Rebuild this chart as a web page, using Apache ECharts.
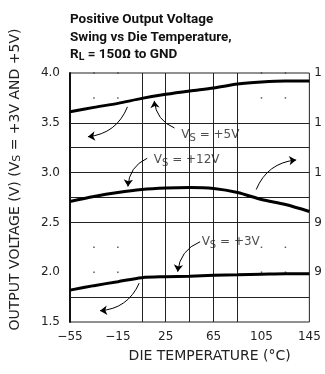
<!DOCTYPE html>
<html>
<head>
<meta charset="utf-8">
<script src="https://cdn.jsdelivr.net/npm/echarts@6/dist/echarts.min.js"></script>
<style>
html, body { margin: 0; padding: 0; background: #fff; }
#main { width: 325px; height: 374px; }
</style>
</head>
<body>
<div id="main"></div>
<script>
// die temperature (°C) and output swing (V)
var temps = [-55, -35, -15, 5, 25, 45, 65, 85, 105, 125, 145];
var vs5 = [3.61, 3.655, 3.695, 3.745, 3.786, 3.82, 3.85, 3.89, 3.91, 3.92, 3.92];
var vs12 = [2.71, 2.76, 2.80, 2.83, 2.845, 2.85, 2.84, 2.80, 2.73, 2.68, 2.61];
var vs3 = [1.82, 1.865, 1.905, 1.945, 1.955, 1.96, 1.97, 1.975, 1.98, 1.985, 1.985];

// grid: some rows/cols are ruled, others only dotted
var solidRows = [3.5, 3.25, 3.0, 2.75, 2.5, 1.75];
var solidCols = [5, 25, 45, 65, 85];
var dotRows = [4.0, 3.75, 2.25, 2.0];
var dotCols = [-35, -15, 105, 125];

// clipped labels of the right hand scale
var rightVals = [4.0, 3.5, 3.0, 2.5, 2.0];
var rightText = ['1', '1', '1', '9', '9'];

// curve notes and arrows, in data units
var noteText = ['+5V', '+12V', '+3V'];
var noteAt = [[38, 3.383], [15, 3.13], [55, 2.303]];
var arrowFrom = [[32.3, 3.448], [-7, 3.66], [9.5, 3.144], [100.6, 2.83], [53.7, 2.306], [2.8, 1.89]];
var arrowTo = [[15.4, 3.72], [-40, 3.36], [-6.6, 2.86], [134, 3.127], [35, 2.005], [-29.9, 1.613]];
var arrowBend = [0.3, 0.3, -0.3, 0.3, -0.3, 0.3];

var xMin = -55, xMax = 145, yMin = 1.5, yMax = 4.0;

function pairs(ys) {
    return temps.map(function(t, i) { return [t, ys[i]]; });
}

var dots = [];
dotRows.forEach(function(r) {
    dotCols.forEach(function(c) { dots.push([c, r]); });
});

// ruled grid lines run edge to edge of the plot
var rules = solidRows.map(function(v) { return { coords: [[xMin, v], [xMax, v]] }; })
    .concat(solidCols.map(function(v) { return { coords: [[v, yMin], [v, yMax]] }; }));

var font = 'DejaVu Sans';
var ink = '#222';

var myChart = echarts.init(document.getElementById('main'));

var curve = function(name, ys) {
    return {
        name: name,
        type: 'line',
        smooth: 0.3,
        symbol: 'none',
        z: 5,
        lineStyle: { color: '#000', width: 3 },
        data: pairs(ys)
    };
};

var titleFont = 'Roboto, "Liberation Sans", sans-serif';

var option = {
    animation: false,
    title: {
        left: 65,
        top: 6,
        text: 'Positive Output Voltage\nSwing vs Die Temperature,\n{r|R}{sub|L}{r| = 150Ω to GND}',
        textStyle: {
            fontFamily: titleFont,
            fontWeight: 'bold',
            fontSize: 13.5,
            lineHeight: 17.5,
            color: '#111',
            rich: {
                r: { fontFamily: titleFont, fontWeight: 'bold', fontSize: 13.5, color: '#111' },
                sub: { fontFamily: titleFont, fontWeight: 'bold', fontSize: 10.5, color: '#111', padding: [6, 0, 0, 0] }
            }
        }
    },
    grid: {
        left: 63,
        right: 13,
        top: 73,
        bottom: 52,
        show: true,
        borderColor: '#222',
        borderWidth: 1
    },
    xAxis: {
        type: 'value',
        min: xMin,
        max: xMax,
        interval: 40,
        name: 'DIE TEMPERATURE (°C)',
        nameLocation: 'middle',
        nameGap: 27,
        nameTextStyle: { fontFamily: font, fontSize: 14, color: ink, padding: [0, 0, 0, 40] },
        axisLine: { show: false, onZero: false },
        axisTick: { show: false },
        splitLine: { show: false },
        axisLabel: {
            margin: 9,
            fontFamily: font,
            fontSize: 12,
            color: ink,
            formatter: function(v) { return String(v).replace('-', '\u2212'); }
        }
    },
    yAxis: [{
        type: 'value',
        min: yMin,
        max: yMax,
        interval: 0.5,
        name: 'OUTPUT VOLTAGE (V) (V{s|S} = +3V AND +5V)',
        nameLocation: 'middle',
        nameGap: 47,
        nameTextStyle: {
            fontFamily: font, fontSize: 14, color: ink, padding: [0, 0, 0, 36],
            rich: { s: { fontFamily: font, fontSize: 11, color: ink, padding: [5, 0, 0, 0] } }
        },
        axisLine: { show: true, onZero: false, lineStyle: { color: '#111', width: 2 } },
        axisTick: { show: false },
        splitLine: { show: false },
        axisLabel: {
            margin: 10,
            fontFamily: font,
            fontSize: 12,
            color: ink,
            formatter: function(v) { return v.toFixed(1); }
        }
    }, {
        type: 'value',
        position: 'right',
        min: yMin,
        max: yMax,
        interval: 0.5,
        axisLine: { show: false, onZero: false },
        axisTick: { show: false },
        splitLine: { show: false },
        axisLabel: {
            margin: 5,
            fontFamily: font,
            fontSize: 12,
            color: ink,
            formatter: function(v) {
                for (var i = 0; i < rightVals.length; i++) {
                    if (Math.abs(rightVals[i] - v) < 1e-6) return rightText[i];
                }
                return '';
            }
        }
    }],
    series: [{
        name: 'rules',
        type: 'lines',
        coordinateSystem: 'cartesian2d',
        silent: true,
        z: 1,
        lineStyle: { color: '#222', width: 1, opacity: 1 },
        data: rules
    }, {
        name: 'dots',
        type: 'scatter',
        symbol: 'rect',
        symbolSize: 1.5,
        silent: true,
        itemStyle: { color: '#333' },
        data: dots
    },
        curve('+5V', vs5),
        curve('+12V', vs12),
        curve('+3V', vs3),
    {
        name: 'arrows',
        type: 'lines',
        coordinateSystem: 'cartesian2d',
        silent: true,
        z: 6,
        symbol: ['none', 'arrow'],
        symbolSize: 7,
        lineStyle: { color: '#000', width: 1, opacity: 1 },
        data: arrowFrom.map(function(p, i) {
            return { coords: [p, arrowTo[i]], lineStyle: { curveness: arrowBend[i] } };
        })
    }, {
        name: 'notes',
        type: 'scatter',
        symbolSize: 0,
        silent: true,
        z: 6,
        data: noteAt.map(function(p, i) {
            return { value: p, note: noteText[i] };
        }),
        label: {
            show: true,
            position: 'right',
            distance: 0,
            formatter: function(p) {
                return '{v|V}{s|S}{v| = ' + p.data.note + '}';
            },
            rich: {
                v: { fontFamily: font, fontSize: 12, color: ink, lineHeight: 16 },
                s: { fontFamily: font, fontSize: 10, color: ink, lineHeight: 16, padding: [7, 0, 0, 0] }
            }
        }
    }]
};

myChart.setOption(option);
</script>
</body>
</html>
